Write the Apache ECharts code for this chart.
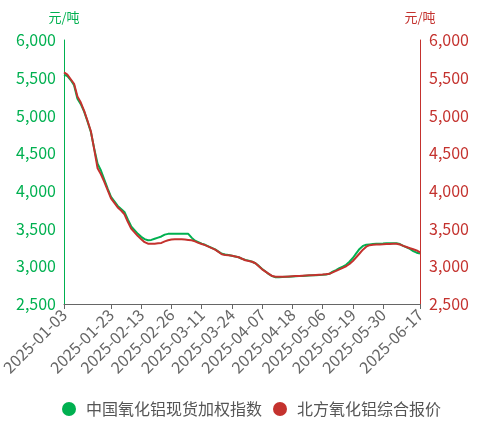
<!DOCTYPE html>
<html>
<head>
<meta charset="utf-8">
<script src="https://cdn.jsdelivr.net/npm/echarts@6/dist/echarts.min.js"></script>
<style>html,body{margin:0;padding:0;background:#fff}#c{width:483px;height:426px}</style>
</head>
<body>
<div id="c"></div>
<script>
const dates = [
"2025-01-03","2025-01-06","2025-01-07","2025-01-08","2025-01-09","2025-01-10","2025-01-13","2025-01-14","2025-01-15","2025-01-16","2025-01-17","2025-01-20","2025-01-21","2025-01-22","2025-01-23","2025-01-24","2025-01-27",
"2025-02-05","2025-02-06","2025-02-07","2025-02-10","2025-02-11","2025-02-12","2025-02-13","2025-02-14","2025-02-17","2025-02-18","2025-02-19","2025-02-20","2025-02-21","2025-02-24","2025-02-25","2025-02-26","2025-02-27","2025-02-28",
"2025-03-03","2025-03-04","2025-03-05","2025-03-06","2025-03-07","2025-03-10","2025-03-11","2025-03-12","2025-03-13","2025-03-14","2025-03-17","2025-03-18","2025-03-19","2025-03-20","2025-03-21","2025-03-24","2025-03-25","2025-03-26","2025-03-27","2025-03-28","2025-03-31",
"2025-04-01","2025-04-02","2025-04-03","2025-04-07","2025-04-08","2025-04-09","2025-04-10","2025-04-11","2025-04-14","2025-04-15","2025-04-16","2025-04-17","2025-04-18","2025-04-21","2025-04-22","2025-04-23","2025-04-24","2025-04-25","2025-04-28","2025-04-29","2025-04-30",
"2025-05-06","2025-05-07","2025-05-08","2025-05-09","2025-05-12","2025-05-13","2025-05-14","2025-05-15","2025-05-16","2025-05-19","2025-05-20","2025-05-21","2025-05-22","2025-05-23","2025-05-26","2025-05-27","2025-05-28","2025-05-29","2025-05-30",
"2025-06-03","2025-06-04","2025-06-05","2025-06-06","2025-06-09","2025-06-10","2025-06-11","2025-06-12","2025-06-13","2025-06-16","2025-06-17"
];
const seriesNames = ["中国氧化铝现货加权指数", "北方氧化铝综合报价"];
const chinaIndex = [
5540,5520,5470,5400,5220,5150,5050,4920,4780,4560,4360,4270,4150,4030,3920,3860,3800,3760,3720,3620,
3530,3480,3430,3390,3360,3345,3350,3365,3380,3395,3420,3430,3430,3430,3430,3430,3430,3430,3380,3340,
3320,3300,3285,3265,3245,3225,3195,3165,3155,3150,3140,3130,3120,3100,3085,3075,3060,3040,3005,2965,
2930,2895,2870,2855,2855,2858,2860,2862,2865,2868,2870,2872,2875,2878,2880,2882,2885,2888,2892,2900,
2930,2950,2975,2995,3020,3060,3110,3170,3230,3270,3285,3290,3295,3298,3300,3302,3305,3305,3305,3305,
3295,3270,3250,3230,3200,3180,3170
];
const northQuote = [
5570,5540,5480,5420,5250,5170,5060,4930,4790,4550,4300,4220,4120,4010,3900,3840,3780,3740,3690,3590,
3500,3450,3400,3360,3320,3300,3300,3300,3305,3310,3330,3345,3355,3358,3358,3358,3355,3350,3345,3330,
3310,3295,3280,3260,3240,3220,3190,3160,3150,3145,3140,3130,3120,3100,3080,3070,3060,3040,3000,2960,
2930,2900,2870,2860,2860,2860,2862,2865,2868,2870,2872,2875,2878,2880,2882,2885,2888,2890,2895,2900,
2920,2940,2960,2980,3000,3030,3070,3120,3170,3220,3260,3280,3285,3290,3290,3292,3295,3295,3298,3300,
3290,3270,3255,3240,3225,3210,3185
];
const yMin = 2500, yMax = 6000, yStep = 500;
const unitName = "元/吨";

const GREEN = '#00b050';
const RED = '#c4322e';
const N = dates.length;
const showLabel = (i) => i === 0 || i === N - 1 || (i >= 14 && (i - 14) % 9 === 0 && i < N - 6);
const fmt = v => v.toLocaleString('en-US');
const font = '"Microsoft YaHei","Noto Sans CJK SC","Noto Sans",sans-serif';

const chart = echarts.init(document.getElementById('c'));
chart.setOption({
  animation: false,
  textStyle: { fontFamily: font },
  grid: { left: 64, right: 63, top: 40, bottom: 122, containLabel: false, outerBoundsMode: 'none' },
  legend: {
    left: 57, bottom: 4,
    icon: 'circle',
    itemWidth: 14, itemHeight: 14, itemGap: 11,
    textStyle: { fontSize: 16, color: '#555', fontFamily: font, padding: [0, 0, 0, 5] },
    data: seriesNames
  },
  xAxis: {
    type: 'category',
    data: dates,
    boundaryGap: false,
    axisLine: { lineStyle: { color: '#666' } },
    axisTick: { interval: showLabel, length: 5, lineStyle: { color: '#666' } },
    axisLabel: { interval: showLabel, rotate: 45, fontSize: 16, color: '#666', margin: 8, fontFamily: font }
  },
  yAxis: [
    {
      type: 'value', min: yMin, max: yMax, interval: yStep,
      name: unitName, nameGap: 16,
      nameTextStyle: { color: GREEN, fontSize: 13, fontFamily: font },
      axisLine: { show: true, lineStyle: { color: GREEN } },
      axisTick: { show: false },
      splitLine: { show: false },
      axisLabel: { color: GREEN, fontSize: 16, margin: 8, formatter: fmt, fontFamily: font }
    },
    {
      type: 'value', min: yMin, max: yMax, interval: yStep,
      name: unitName, nameGap: 16,
      nameTextStyle: { color: RED, fontSize: 13, fontFamily: font },
      axisLine: { show: true, lineStyle: { color: RED } },
      axisTick: { show: false },
      splitLine: { show: false },
      axisLabel: { color: RED, fontSize: 16, margin: 9, formatter: fmt, fontFamily: font }
    }
  ],
  series: [
    {
      name: seriesNames[0], type: 'line', yAxisIndex: 0, data: chinaIndex,
      showSymbol: false, symbol: 'none', itemStyle: { color: GREEN },
      lineStyle: { color: GREEN, width: 2 }
    },
    {
      name: seriesNames[1], type: 'line', yAxisIndex: 1, data: northQuote,
      showSymbol: false, symbol: 'none', itemStyle: { color: RED },
      lineStyle: { color: RED, width: 2 }
    }
  ]
});
</script>
</body>
</html>
